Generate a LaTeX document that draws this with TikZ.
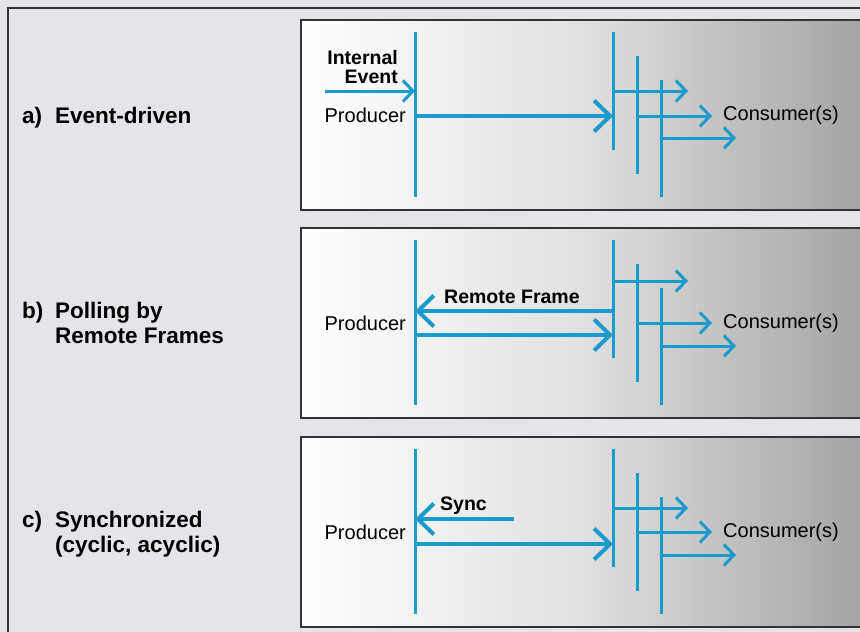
\documentclass[tikz,border=0pt]{standalone}
\usepackage{fontspec}
\setmainfont{Liberation Sans}
\usetikzlibrary{arrows.meta}

\definecolor{canblue}{RGB}{26,155,204}
\definecolor{pagegray}{RGB}{229,229,233}
\pgfdeclarehorizontalshading{panelshade}{100bp}{color(0bp)=(white); color(25bp)=(white); color(50bp)=(black!12); color(75bp)=(black!36); color(100bp)=(black!36)}

\begin{document}
\begin{tikzpicture}[x=1pt,y=-1pt]


\tikzset{frame/.style={draw=black!80,line width=1.8pt},}
\tikzset{bus/.style={canblue,line width=3pt},}
\tikzset{msg/.style={canblue,line width=4pt,-{Straight Barb[length=16pt,width=31pt]}},}
\tikzset{fan/.style={canblue,line width=3pt,-{Straight Barb[length=10pt,width=21pt]}},}
\tikzset{txt/.style={inner sep=0pt,font=\fontsize{20}{24}\selectfont},}
\tikzset{note/.style={inner sep=0pt,font=\bfseries\fontsize{19.5}{19}\selectfont},}
\tikzset{head/.style={inner sep=0pt,anchor=north west,align=left,font=\bfseries\fontsize{22.5}{25}\selectfont},}

	\clip (0,0) rectangle (860,632);
	\fill[pagegray] (0,0) rectangle (860,632);
	\draw[black!80,line width=1.8pt] (8,8) rectangle (880,650);

	% the three panels
	\foreach \p/\t/\fa/\fb/\fm in {a/20/71/96/96, b/228/53/95/107, c/437/71/95/107}{
	\begin{scope}[yshift=-\t pt]
		\shade[shading=panelshade] (301,0) rectangle (866,190);
		\draw[frame] (301,0) rectangle (866,190);
		\coordinate (\p p1) at (415,12); \coordinate (\p p2) at (415,177);
		\coordinate (\p c1) at (613,12); \coordinate (\p d1) at (613,130);
		\coordinate (\p c2) at (637,36); \coordinate (\p d2) at (637,154);
		\coordinate (\p c3) at (661,60); \coordinate (\p d3) at (661,177);
		\coordinate (\p o1) at (688,\fa);
		\coordinate (\p o2) at (712,\fb);
		\coordinate (\p o3) at (736,118);
		\coordinate (\p m) at (613,\fm);
		\draw[bus] (\p p1) -- (\p p2);
		\draw[bus] (\p c1) -- (\p d1);
		\draw[bus] (\p c2) -- (\p d2);
		\draw[bus] (\p c3) -- (\p d3);
		\draw[fan] (\p c1 |- \p o1) -- (\p o1);
		\draw[fan] (\p c2 |- \p o2) -- (\p o2);
		\draw[fan] (\p c3 |- \p o3) -- (\p o3);
		\draw[msg] (\p p1 |- \p m) -- (\p m);
		\node[txt,anchor=east] (\p prod) at (406,95) {Producer};
		\node[txt,anchor=west] (\p cons) at (723,95) {Consumer(s)};
	\end{scope}
	}

	% a) internal event
	\coordinate (ev) at (325,91);
	\draw[fan] (ev) -- (ap1 |- ev);
	\node[note,anchor=east,align=right] (evtext) at (398,67) {Internal\\Event};

	% b) remote frame
	\coordinate (rf) at (613,311);
	\draw[msg] (rf) -- (bp1 |- rf);
	\node[note,anchor=west] (rftext) at (444,297) {Remote Frame};

	% c) sync
	\coordinate (sy) at (514,519);
	\draw[msg] (sy) -- (cp1 |- sy);
	\node[note,anchor=west] (sytext) at (440,506) {Sync};

	% headings
	\node[head] (atag) at (22,107) {a)};
	\node[head] (ahead) at (55,107) {Event-driven};
	\node[head] (btag) at (22,302) {b)};
	\node[head] (bhead) at (55,302) {Polling by\\Remote Frames};
	\node[head] (ctag) at (22,511) {c)};
	\node[head] (chead) at (55,511) {Synchronized\\(cyclic, acyclic)};

\end{tikzpicture}
\end{document}
